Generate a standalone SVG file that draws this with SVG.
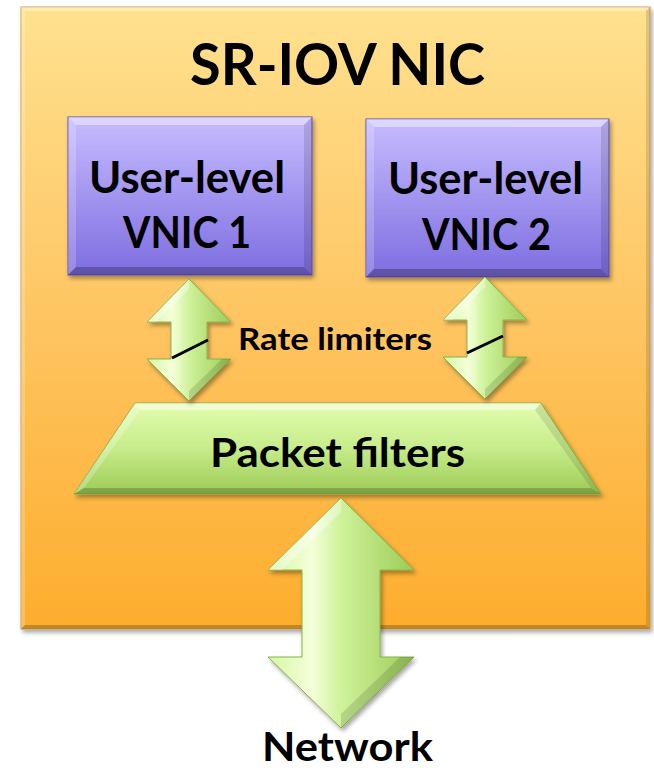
<svg xmlns="http://www.w3.org/2000/svg" width="654" height="770" viewBox="0 0 654 770">
  <defs>
    <linearGradient id="gOrange" x1="0" y1="0" x2="0" y2="1">
      <stop offset="0" stop-color="#FFE18F"/>
      <stop offset="0.5" stop-color="#FEC562"/>
      <stop offset="1" stop-color="#FDAD2D"/>
    </linearGradient>
    <linearGradient id="gPurple" x1="0" y1="0" x2="0" y2="1">
      <stop offset="0" stop-color="#C7BCFF"/>
      <stop offset="1" stop-color="#7D6DE0"/>
    </linearGradient>
    <linearGradient id="gGreenV" x1="0" y1="0" x2="0" y2="1">
      <stop offset="0" stop-color="#E4FDB0"/>
      <stop offset="0.5" stop-color="#C6EC8A"/>
      <stop offset="1" stop-color="#9DCB55"/>
    </linearGradient>
    <linearGradient id="gGreenH" x1="0" y1="0" x2="1" y2="0">
      <stop offset="0" stop-color="#D6F7A2"/>
      <stop offset="0.3" stop-color="#F4FFDA"/>
      <stop offset="0.5" stop-color="#CFF29A"/>
      <stop offset="1" stop-color="#9CCC58"/>
    </linearGradient>
    <filter id="shadow" x="-10%" y="-10%" width="130%" height="130%">
      <feDropShadow dx="2" dy="3" stdDeviation="2" flood-color="#000" flood-opacity="0.35"/>
    </filter>
  </defs>
  <style>
    .t { font-family: Lato, "Open Sans", "Liberation Sans", sans-serif; font-weight: bold; fill: #000; }
    .hi { fill: #fff; }
    .lo { fill: #000; }
    .arrow { fill: url(#gGreenH); stroke: #86B24A; stroke-width: 1; stroke-linejoin: miter; }
    .limit { stroke: #000; stroke-width: 3; fill: none; }
  </style>

  <g id="nic">
    <rect x="21" y="7" width="629" height="622" fill="url(#gOrange)" stroke="#C8A058" stroke-width="1" filter="url(#shadow)"/>
    <polygon class="hi" opacity="0.35" points="21,7 650,7 646,11 25,11"/>
    <polygon class="hi" opacity="0.2" points="21,7 25,11 25,625 21,629"/>
    <polygon class="lo" opacity="0.12" points="650,7 650,629 646,625 646,11"/>
    <polygon class="lo" opacity="0.22" points="21,629 650,629 646,625 25,625"/>
    <text class="t" x="190" y="85" font-size="58" textLength="295" lengthAdjust="spacingAndGlyphs">SR-IOV NIC</text>
  </g>

  <g id="vnic1">
    <rect x="68" y="117" width="244" height="158" fill="url(#gPurple)" stroke="#5E50B8" stroke-width="1" filter="url(#shadow)"/>
    <polygon class="hi" opacity="0.4" points="68,117 312,117 304,125 76,125"/>
    <polygon class="hi" opacity="0.2" points="68,117 76,125 76,267 68,275"/>
    <polygon class="lo" opacity="0.12" points="312,117 312,275 304,267 304,125"/>
    <polygon class="lo" opacity="0.25" points="68,275 312,275 304,267 76,267"/>
    <text class="t" x="89" y="193" font-size="44" textLength="196" lengthAdjust="spacingAndGlyphs">User-level</text>
    <text class="t" x="123" y="248" font-size="44" textLength="128" lengthAdjust="spacingAndGlyphs">VNIC 1</text>
  </g>

  <g id="vnic2">
    <rect x="366" y="119" width="243" height="158" fill="url(#gPurple)" stroke="#5E50B8" stroke-width="1" filter="url(#shadow)"/>
    <polygon class="hi" opacity="0.4" points="366,119 609,119 601,127 374,127"/>
    <polygon class="hi" opacity="0.2" points="366,119 374,127 374,269 366,277"/>
    <polygon class="lo" opacity="0.12" points="609,119 609,277 601,269 601,127"/>
    <polygon class="lo" opacity="0.25" points="366,277 609,277 601,269 374,269"/>
    <text class="t" x="388" y="194" font-size="44" textLength="195" lengthAdjust="spacingAndGlyphs">User-level</text>
    <text class="t" x="422" y="250" font-size="44" textLength="129" lengthAdjust="spacingAndGlyphs">VNIC 2</text>
  </g>

  <g id="filters">
    <polygon points="135,403 541,403 601,494 74,494" fill="url(#gGreenV)" stroke="#86B24A" stroke-width="1" filter="url(#shadow)"/>
    <polygon class="hi" opacity="0.45" points="135,403 541,403 535,410 140,410"/>
    <polygon class="hi" opacity="0.25" points="135,403 140,410 84,488 74,494"/>
    <polygon class="lo" opacity="0.1" points="541,403 601,494 591,488 535,410"/>
    <polygon class="lo" opacity="0.2" points="74,494 601,494 591,488 84,488"/>
    <text class="t" x="210" y="467" font-size="41" textLength="255" lengthAdjust="spacingAndGlyphs">Packet filters</text>
  </g>

  <g id="connectors">
    <g id="arrow-left">
      <path class="arrow" filter="url(#shadow)" d="M189,279 L231,322 L207,322 L207,359 L231,359 L189,401 L147,359 L171,359 L171,322 L147,322 Z"/>
      <polygon class="hi" opacity="0.35" points="189,279 147,322 156,322 189,289"/>
      <polygon class="lo" opacity="0.12" points="189,401 231,359 222,359 189,391"/>
      <line class="limit" x1="172" y1="358" x2="208" y2="340"/>
    </g>
    <g id="arrow-right">
      <path class="arrow" filter="url(#shadow)" d="M485,277 L527,320 L503,320 L503,357 L527,357 L485,399 L443,357 L467,357 L467,320 L443,320 Z"/>
      <polygon class="hi" opacity="0.35" points="485,277 443,320 452,320 485,287"/>
      <polygon class="lo" opacity="0.12" points="485,399 527,357 518,357 485,389"/>
      <line class="limit" x1="467" y1="353" x2="503" y2="336"/>
    </g>
    <g id="arrow-network">
      <path class="arrow" filter="url(#shadow)" d="M341,498 L414,570 L380,570 L380,657 L414,657 L341,728 L268,657 L302,657 L302,570 L268,570 Z"/>
      <polygon class="hi" opacity="0.35" points="341,498 268,570 282,570 341,512"/>
      <polygon class="lo" opacity="0.12" points="341,728 414,657 400,657 341,714"/>
    </g>
    <text class="t" x="238" y="350" font-size="30" textLength="194" lengthAdjust="spacingAndGlyphs">Rate limiters</text>
  </g>

  <g id="network">
    <text class="t" x="262" y="761" font-size="40" textLength="171" lengthAdjust="spacingAndGlyphs">Network</text>
  </g>
</svg>
